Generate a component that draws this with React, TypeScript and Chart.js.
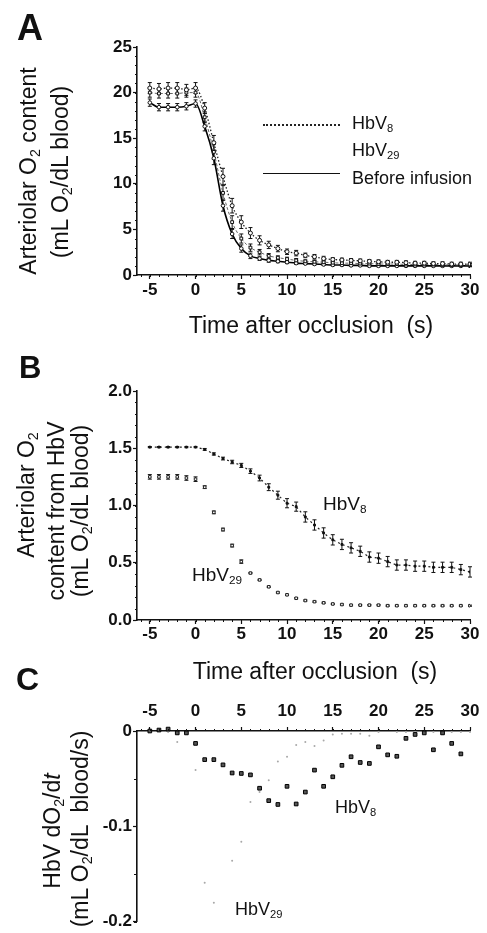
import React, { useEffect, useRef } from 'react';
import { Chart, registerables } from 'chart.js';

Chart.register(...registerables);

const FONT = "'Liberation Sans', Arial, Helvetica, sans-serif";

// ---------- shared ----------
const timeS = [-5, -4, -3, -2, -1, 0, 1, 2, 3, 4, 5, 6, 7, 8, 9, 10, 11, 12, 13, 14, 15, 16, 17, 18, 19, 20, 21, 22, 23, 24, 25, 26, 27, 28, 29, 30];
const xMajorTicks = [-5, 0, 5, 10, 15, 20, 25, 30];

// ---------- panel A : arteriolar O2 content ----------
const aYTicks = [0, 5, 10, 15, 20, 25];
const aHbV8 = [20.5, 20.4, 20.5, 20.5, 20.3, 20.5, 18.3, 14.5, 10.8, 7.6, 5.8, 4.6, 3.8, 3.3, 2.9, 2.55, 2.4, 2.15, 2.0, 1.8, 1.7, 1.65, 1.6, 1.55, 1.5, 1.45, 1.4, 1.4, 1.35, 1.3, 1.3, 1.25, 1.25, 1.2, 1.2, 1.2];
const aHbV8Err = [0.6, 0.6, 0.6, 0.6, 0.6, 0.6, 0.6, 0.8, 0.9, 0.8, 0.7, 0.6, 0.5, 0.4, 0.35, 0.3, 0.3, 0.25, 0.25, 0.25, 0.2, 0.2, 0.2, 0.2, 0.2, 0.2, 0.2, 0.2, 0.2, 0.2, 0.2, 0.2, 0.2, 0.2, 0.2, 0.2];
const aHbV29 = [20.0, 19.9, 19.9, 19.9, 20.0, 20.0, 17.3, 13.5, 9.0, 5.8, 4.0, 3.0, 2.5, 2.1, 1.9, 1.75, 1.6, 1.5, 1.45, 1.4, 1.35, 1.3, 1.3, 1.25, 1.25, 1.2, 1.2, 1.2, 1.15, 1.15, 1.15, 1.15, 1.1, 1.1, 1.1, 1.1];
const aHbV29Err = [0.5, 0.5, 0.5, 0.5, 0.5, 0.5, 0.6, 0.8, 0.8, 0.7, 0.5, 0.4, 0.3, 0.25, 0.2, 0.2, 0.2, 0.15, 0.15, 0.15, 0.15, 0.15, 0.15, 0.15, 0.15, 0.15, 0.15, 0.15, 0.15, 0.15, 0.15, 0.15, 0.15, 0.15, 0.15, 0.15];
const aBefore = [18.9, 18.4, 18.4, 18.4, 18.5, 18.8, 16.3, 12.8, 7.6, 4.5, 2.9, 2.1, 1.8, 1.6, 1.5, 1.4, 1.3, 1.25, 1.2, 1.15, 1.1, 1.1, 1.05, 1.05, 1.0, 1.0, 1.0, 1.0, 1.0, 1.0, 1.0, 1.0, 1.0, 1.0, 1.0, 1.0];
const aBeforeErr = [0.4, 0.4, 0.4, 0.4, 0.4, 0.4, 0.5, 0.7, 0.6, 0.5, 0.4, 0.3, 0.2, 0.2, 0.15, 0.15, 0.15, 0.1, 0.1, 0.1, 0.1, 0.1, 0.1, 0.1, 0.1, 0.1, 0.1, 0.1, 0.1, 0.1, 0.1, 0.1, 0.1, 0.1, 0.1, 0.1];

// ---------- panel B : O2 content from HbV ----------
const bYTicks = [0, 0.5, 1.0, 1.5, 2.0];
const bHbV8 = [1.51, 1.51, 1.51, 1.51, 1.51, 1.51, 1.49, 1.45, 1.41, 1.38, 1.35, 1.30, 1.24, 1.16, 1.09, 1.02, 0.99, 0.90, 0.83, 0.76, 0.70, 0.66, 0.63, 0.60, 0.55, 0.54, 0.51, 0.48, 0.48, 0.47, 0.47, 0.46, 0.46, 0.46, 0.44, 0.42];
const bHbV8Err = [0.005, 0.005, 0.005, 0.005, 0.005, 0.005, 0.008, 0.01, 0.012, 0.015, 0.018, 0.02, 0.025, 0.03, 0.035, 0.04, 0.04, 0.045, 0.045, 0.045, 0.045, 0.045, 0.045, 0.045, 0.045, 0.045, 0.045, 0.045, 0.045, 0.045, 0.045, 0.045, 0.045, 0.045, 0.045, 0.045];
const bHbV29 = [1.25, 1.25, 1.25, 1.25, 1.24, 1.23, 1.16, 0.94, 0.79, 0.65, 0.51, 0.41, 0.35, 0.29, 0.24, 0.22, 0.19, 0.17, 0.16, 0.15, 0.14, 0.135, 0.13, 0.13, 0.13, 0.13, 0.125, 0.125, 0.125, 0.125, 0.125, 0.125, 0.125, 0.125, 0.125, 0.125];
const bHbV29Err = [0.02, 0.02, 0.02, 0.02, 0.02, 0.02, 0.012, 0.012, 0.012, 0.012, 0.015, 0.005, 0.005, 0.005, 0.005, 0.005, 0.005, 0.005, 0.005, 0.005, 0.005, 0.005, 0.005, 0.005, 0.005, 0.005, 0.005, 0.005, 0.005, 0.005, 0.005, 0.005, 0.005, 0.005, 0.005, 0.005];

// ---------- panel C : HbV dO2/dt ----------
const cYTicks = [0, -0.1, -0.2];
const cHbV8 = [0.0, 0.001, 0.002, -0.002, -0.002, -0.013, -0.030, -0.030, -0.0355, -0.044, -0.0445, -0.046, -0.060, -0.073, -0.077, -0.058, -0.0765, -0.064, -0.041, -0.058, -0.048, -0.036, -0.027, -0.033, -0.034, -0.0166, -0.025, -0.0265, -0.0077, -0.0036, -0.002, -0.0197, -0.002, -0.013, -0.024, 0.009];
const cHbV29 = [0.0, 0.0, -0.001, -0.0115, null, -0.041, -0.159, -0.18, null, -0.136, -0.116, -0.0745, -0.064, -0.0516, -0.032, -0.027, -0.0146, -0.0115, -0.0156, -0.010, -0.0036, -0.003, -0.003, -0.003, -0.005, -0.001, 0.0077, -0.001, -0.001, -0.001, -0.001, -0.001, -0.001, -0.001, -0.001, -0.001];

const pts = (ys: (number | null)[]) => timeS.map((t, i) => ({ x: t, y: ys[i] }));

// ---------- plugins ----------
const errorBarPlugin = {
  id: 'errorBars',
  beforeDatasetsDraw(chart: any) {
    const ctx = chart.ctx;
    const yScale = chart.scales.y;
    chart.data.datasets.forEach((ds: any, i: number) => {
      if (!ds.errors) return;
      const meta = chart.getDatasetMeta(i);
      ctx.save();
      ctx.strokeStyle = ds.errorColor || '#111';
      ctx.lineWidth = ds.errorWidth || 1;
      const cap = ds.capWidth ?? 2;
      meta.data.forEach((el: any, j: number) => {
        const p = ds.data[j];
        const e = ds.errors[j];
        if (!p || p.y == null || !e) return;
        const x = el.x;
        const y1 = yScale.getPixelForValue(p.y + e);
        const y2 = yScale.getPixelForValue(p.y - e);
        ctx.beginPath();
        ctx.moveTo(x, y1);
        ctx.lineTo(x, y2);
        ctx.moveTo(x - cap, y1);
        ctx.lineTo(x + cap, y1);
        ctx.moveTo(x - cap, y2);
        ctx.lineTo(x + cap, y2);
        ctx.stroke();
      });
      ctx.restore();
    });
  },
};

const minorTickPlugin = {
  id: 'minorTicks',
  afterDraw(chart: any, _args: any, opts: any) {
    const ctx = chart.ctx;
    const area = chart.chartArea;
    ['x', 'y'].forEach((k) => {
      const o = opts && opts[k];
      if (!o) return;
      const s = chart.scales[k];
      ctx.save();
      ctx.strokeStyle = '#111';
      ctx.lineWidth = 1;
      ctx.beginPath();
      const lo = Math.min(s.min, s.max);
      const hi = Math.max(s.min, s.max);
      const start = Math.ceil(lo / o.step - 1e-9);
      const end = Math.floor(hi / o.step + 1e-9);
      for (let n = start; n <= end; n++) {
        const v = n * o.step;
        const p = Math.round(s.getPixelForValue(v)) + 0.5;
        if (s.isHorizontal()) {
          const top = s.position === 'top';
          const y0 = top ? area.top : area.bottom;
          ctx.moveTo(p, y0);
          ctx.lineTo(p, y0 + (top ? -o.len : o.len));
        } else {
          ctx.moveTo(area.left, p);
          ctx.lineTo(area.left - o.len, p);
        }
      }
      ctx.stroke();
      ctx.restore();
    });
  },
};

const tickFont = { family: FONT, size: 17, weight: 'bold' as const };

function xScale(position: 'top' | 'bottom', boxHeight: number, pad: number) {
  return {
    type: 'linear',
    position,
    min: -6.4,
    max: 30,
    afterBuildTicks: (s: any) => {
      s.ticks = xMajorTicks.map((v) => ({ value: v }));
    },
    afterFit: (s: any) => {
      s.height = boxHeight;
    },
    grid: { display: true, drawOnChartArea: false, drawTicks: true, tickLength: 4, tickColor: '#111', tickWidth: 1.2 },
    border: { display: true, color: '#111', width: 1.6 },
    ticks: { font: tickFont, color: '#111', padding: pad, maxRotation: 0, autoSkip: false, callback: (v: any) => String(v) },
  };
}

function yScale(min: number, max: number, ticks: number[], fmt: (v: number) => string) {
  return {
    type: 'linear',
    min,
    max,
    afterBuildTicks: (s: any) => {
      s.ticks = ticks.map((v) => ({ value: v }));
    },
    afterFit: (s: any) => {
      s.width = 137;
    },
    grid: { display: true, drawOnChartArea: false, drawTicks: true, tickLength: 4, tickColor: '#111', tickWidth: 1.2 },
    border: { display: true, color: '#111', width: 1.6 },
    ticks: { font: tickFont, color: '#111', padding: 1, autoSkip: false, callback: (v: any) => fmt(Number(v)) },
  };
}

const common = {
  responsive: false,
  animation: false,
  devicePixelRatio: 1,
};

function makeA(canvas: HTMLCanvasElement) {
  return new Chart(canvas, {
    type: 'scatter',
    data: {
      datasets: [
        {
          label: 'HbV8', data: pts(aHbV8), errors: aHbV8Err, capWidth: 2,
          showLine: true, borderColor: '#222', borderWidth: 1.3, borderDash: [1.5, 2], cubicInterpolationMode: 'monotone',
          pointStyle: 'circle', pointRadius: 2, pointBackgroundColor: '#fff', pointBorderColor: '#111', pointBorderWidth: 1,
        },
        {
          label: 'HbV29', data: pts(aHbV29), errors: aHbV29Err, capWidth: 2,
          showLine: true, borderColor: '#666', borderWidth: 1, borderDash: [3, 2], cubicInterpolationMode: 'monotone',
          pointStyle: 'rect', pointRadius: 2, pointBackgroundColor: '#fff', pointBorderColor: '#111', pointBorderWidth: 1,
        },
        {
          label: 'Before infusion', data: pts(aBefore), errors: aBeforeErr, capWidth: 2,
          showLine: true, borderColor: '#000', borderWidth: 1.6, cubicInterpolationMode: 'monotone',
          pointStyle: 'circle', pointRadius: 1.8, pointBackgroundColor: '#fff', pointBorderColor: '#111', pointBorderWidth: 1,
        },
      ],
    } as any,
    options: {
      ...common,
      layout: { padding: { left: 0, right: 17, top: 47, bottom: 0 } },
      plugins: {
        legend: { display: false },
        tooltip: { enabled: false },
        minorTicks: { x: { step: 1, len: 2 }, y: { step: 1, len: 2 } },
      },
      scales: {
        x: xScale('bottom', 45, 1),
        y: yScale(0, 25, aYTicks, (v) => String(v)),
      },
    } as any,
    plugins: [errorBarPlugin, minorTickPlugin],
  });
}

function makeB(canvas: HTMLCanvasElement) {
  return new Chart(canvas, {
    type: 'scatter',
    data: {
      datasets: [
        {
          label: 'HbV8', data: pts(bHbV8), errors: bHbV8Err, capWidth: 2,
          showLine: true, borderColor: '#222', borderWidth: 1.2, borderDash: [2, 3],
          pointStyle: 'rect', pointRadius: 1.3, pointBackgroundColor: '#111', pointBorderColor: '#111', pointBorderWidth: 1,
        },
        {
          label: 'HbV29', data: pts(bHbV29), errors: bHbV29Err, capWidth: 2,
          showLine: false,
          pointStyle: 'rect', pointRadius: 1.8, pointBackgroundColor: '#fff', pointBorderColor: '#222', pointBorderWidth: 1,
        },
      ],
    } as any,
    options: {
      ...common,
      layout: { padding: { left: 0, right: 17, top: 71, bottom: 0 } },
      plugins: {
        legend: { display: false },
        tooltip: { enabled: false },
        minorTicks: { x: { step: 1, len: 2 }, y: { step: 0.1, len: 2 } },
      },
      scales: {
        x: xScale('bottom', 30, 0),
        y: yScale(0, 2, bYTicks, (v) => v.toFixed(1)),
      },
    } as any,
    plugins: [errorBarPlugin, minorTickPlugin],
  });
}

function makeC(canvas: HTMLCanvasElement) {
  return new Chart(canvas, {
    type: 'scatter',
    data: {
      datasets: [
        {
          label: 'HbV8', data: pts(cHbV8), clip: false,
          pointStyle: 'rect', pointRadius: 2.6, pointBackgroundColor: '#555', pointBorderColor: '#000', pointBorderWidth: 1,
        },
        {
          label: 'HbV29', data: pts(cHbV29), clip: false,
          pointStyle: 'circle', pointRadius: 1, pointBackgroundColor: '#a8a8a8', pointBorderColor: '#a8a8a8', pointBorderWidth: 0,
        },
      ],
    } as any,
    options: {
      ...common,
      layout: { padding: { left: 0, right: 17, top: 0, bottom: 10 } },
      plugins: {
        legend: { display: false },
        tooltip: { enabled: false },
        minorTicks: { x: { step: 1, len: 2 }, y: { step: 0.05, len: 3 } },
      },
      scales: {
        x: xScale('top', 81, 5),
        y: yScale(-0.2, 0, cYTicks, (v) => (v === 0 ? '0' : v.toFixed(1))),
      },
    } as any,
    plugins: [errorBarPlugin, minorTickPlugin],
  });
}

// ---------- text helpers ----------
const Sub = ({ children }: { children: React.ReactNode }) => (
  <span style={{ fontSize: '0.62em', position: 'relative', top: '0.3em' }}>{children}</span>
);

const Txt = ({ x, base, size, weight, center, children }: any) => (
  <div
    style={{
      position: 'absolute',
      left: x,
      top: base - 0.8465 * size,
      fontSize: size,
      lineHeight: 1,
      fontFamily: FONT,
      fontWeight: weight || 'normal',
      whiteSpace: 'pre',
      color: '#111',
      transform: center ? 'translateX(-50%)' : undefined,
    }}
  >
    {children}
  </div>
);

const Rot = ({ cx, cy, size, children }: any) => (
  <div
    style={{
      position: 'absolute',
      left: cx,
      top: cy,
      fontSize: size,
      lineHeight: 1,
      fontFamily: FONT,
      whiteSpace: 'pre',
      color: '#111',
      transform: 'translate(-50%, -50%) rotate(-90deg)',
    }}
  >
    {children}
  </div>
);

export default function App() {
  const refA = useRef<HTMLCanvasElement>(null);
  const refB = useRef<HTMLCanvasElement>(null);
  const refC = useRef<HTMLCanvasElement>(null);

  useEffect(() => {
    const charts = [makeA(refA.current!), makeB(refB.current!), makeC(refC.current!)];
    return () => charts.forEach((c) => c.destroy());
  }, []);

  const TITLE = 23;
  return (
    <div style={{ position: 'absolute', left: 0, top: 0, width: 487, height: 933, background: '#fff', overflow: 'hidden' }}>
      <canvas ref={refA} width={487} height={320} style={{ position: 'absolute', left: 0, top: 0 }} />
      <canvas ref={refB} width={487} height={330} style={{ position: 'absolute', left: 0, top: 320 }} />
      <canvas ref={refC} width={487} height={283} style={{ position: 'absolute', left: 0, top: 650 }} />

      {/* panel letters */}
      <Txt x={17} base={40} size={36} weight="bold">A</Txt>
      <Txt x={19} base={378} size={31} weight="bold">B</Txt>
      <Txt x={16} base={690} size={32} weight="bold">C</Txt>

      {/* panel A */}
      <Rot cx={28} cy={171} size={TITLE}>Arteriolar O<Sub>2</Sub> content</Rot>
      <Rot cx={60} cy={172} size={TITLE}>(mL O<Sub>2</Sub>/dL blood)</Rot>
      <Txt x={311} base={333} size={TITLE} center>Time after occlusion  (s)</Txt>
      <div style={{ position: 'absolute', left: 263, top: 124, width: 77, borderTop: '2px dotted #222' }} />
      <div style={{ position: 'absolute', left: 263, top: 173, width: 77, borderTop: '1.5px solid #111' }} />
      <Txt x={352} base={129} size={18}>HbV<Sub>8</Sub></Txt>
      <Txt x={352} base={156} size={18}>HbV<Sub>29</Sub></Txt>
      <Txt x={352} base={184} size={18}>Before infusion</Txt>

      {/* panel B */}
      <Rot cx={26} cy={495} size={TITLE}>Arteriolar O<Sub>2</Sub></Rot>
      <Rot cx={56} cy={511} size={TITLE}>content from HbV</Rot>
      <Rot cx={80} cy={511} size={TITLE}>(mL O<Sub>2</Sub>/dL blood)</Rot>
      <Txt x={315} base={679} size={TITLE} center>Time after occlusion  (s)</Txt>
      <Txt x={323} base={510} size={19}>HbV<Sub>8</Sub></Txt>
      <Txt x={192} base={581} size={19}>HbV<Sub>29</Sub></Txt>

      {/* panel C */}
      <Rot cx={52} cy={831} size={TITLE}>HbV dO<Sub>2</Sub>/d<i>t</i></Rot>
      <Rot cx={80} cy={829} size={TITLE}>(mL O<Sub>2</Sub>/dL  blood/s)</Rot>
      <Txt x={335} base={813} size={18}>HbV<Sub>8</Sub></Txt>
      <Txt x={235} base={915} size={18}>HbV<Sub>29</Sub></Txt>
    </div>
  );
}
